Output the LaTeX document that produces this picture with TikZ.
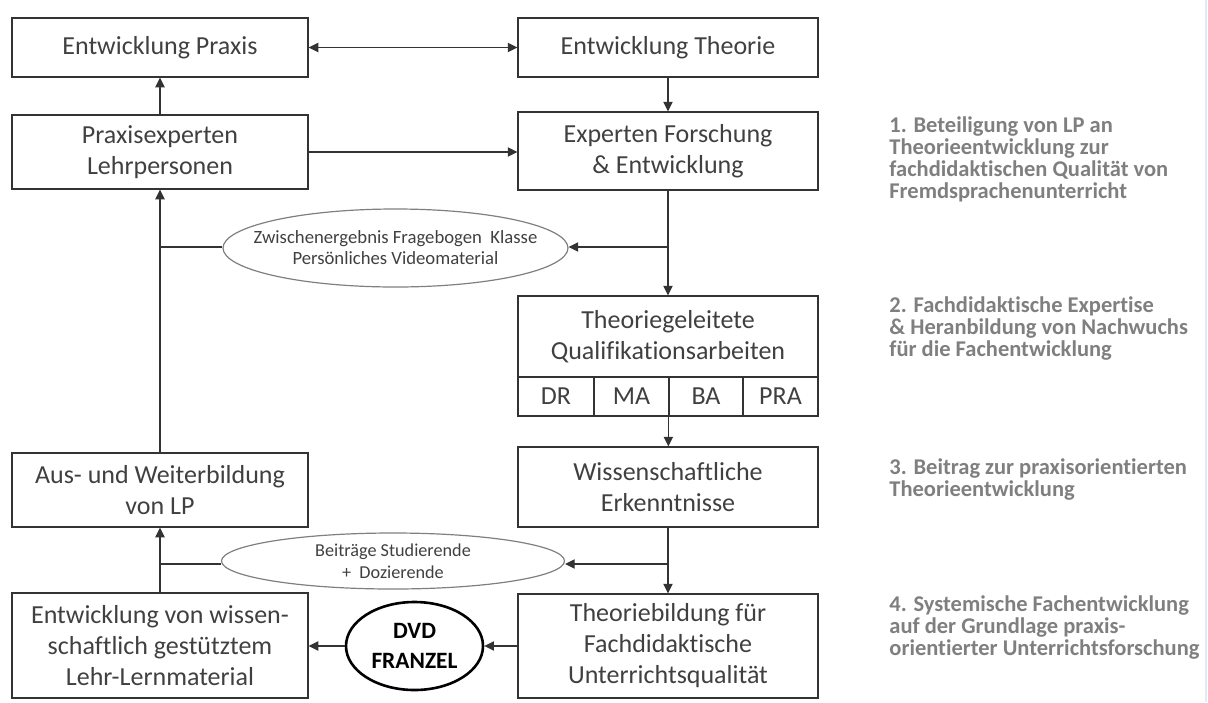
\documentclass[tikz,border=0pt]{standalone}
\usepackage{fontspec}
\setmainfont{Carlito}[Ligatures=NoCommon]
\usetikzlibrary{arrows.meta,shapes.geometric}
\definecolor{txt}{HTML}{404040}
\definecolor{lin}{HTML}{333333}
\definecolor{side}{HTML}{7F7F7F}
\definecolor{ellc}{HTML}{7F7F7F}
\definecolor{frame}{HTML}{E3EAF3}
\begin{document}
\begin{tikzpicture}[x=0.5pt,y=-0.5pt,
  box/.style={draw=lin, line width=0.65pt, inner sep=0pt, align=center, text=txt,
              font=\fontsize{13pt}{15.5pt}\selectfont},
  ell/.style={ellipse, draw=ellc, line width=0.6pt, inner sep=0pt},
  elltext/.style={inner sep=0pt, align=center, text=txt},
  dvd/.style={ellipse, draw=black, line width=1.3pt, inner sep=0pt, align=center, text=black,
              font=\fontsize{11.7pt}{15pt}\bfseries\selectfont},
  arr/.style={-{Triangle[length=4.8pt,width=4.6pt]}, draw=lin, line width=0.7pt},
  biarr/.style={{Triangle[length=4.8pt,width=4.6pt]}-{Triangle[length=4.8pt,width=4.6pt]}, draw=lin, line width=0.7pt},
  ln/.style={draw=lin, line width=0.7pt},
  sidetext/.style={anchor=north west, inner sep=0pt, align=left, text=side,
              font=\fontsize{11.25pt}{11pt}\bfseries\selectfont}
]
\useasboundingbox (0,0) rectangle (1208,702);
\draw[frame, line width=0.6pt] (1206,0) -- (1206,702);

% left column
\node[box, minimum width=148pt, minimum height=29.5pt] (EP) at (160,47.5) {Entwicklung Praxis};
\node[box, minimum width=148pt, minimum height=37pt] (PE) at (160,152) {Praxisexperten\\Lehrpersonen};
\node[box, minimum width=148pt, minimum height=37pt] (AW) at (160,490) {Aus- und Weiterbildung\\von LP};
\node[box, minimum width=148pt, minimum height=52.5pt] (EV) at (160,645.5) {Entwicklung von wissen-\\schaftlich gestütztem\\Lehr-Lernmaterial};

% right column
\node[box, minimum width=150pt, minimum height=29.5pt] (ET) at (668,47.5) {Entwicklung Theorie};
\node[box, minimum width=150pt, minimum height=39pt] (EF) at (668,151) {Experten Forschung\\\& Entwicklung};
\node[box, minimum width=150pt, minimum height=40.5pt] (QA) at (668,336.5) {Theoriegeleitete\\Qualifikationsarbeiten};
\node[box, minimum width=38pt, minimum height=19.5pt] (DR) at (556,396.5) {DR};
\node[box, minimum width=37.5pt, minimum height=19.5pt] (MA) at (631.5,396.5) {MA};
\node[box, minimum width=37pt, minimum height=19.5pt] (BA) at (706,396.5) {BA};
\node[box, minimum width=37.5pt, minimum height=19.5pt] (PRA) at (780.5,396.5) {PRA};
\node[box, minimum width=150pt, minimum height=40pt] (WE) at (668,487) {Wissenschaftliche\\Erkenntnisse};
\node[box, minimum width=150pt, minimum height=52pt] (TB) at (668,646) {Theoriebildung für\\Fachdidaktische\\Unterrichtsqualität};

% ellipses
\node[ell, minimum width=172.5pt, minimum height=39pt] (E1) at (395.5,248) {};
\node[elltext, font=\fontsize{9.35pt}{10.5pt}\selectfont] (E1t) at (E1.center) {Zwischenergebnis Fragebogen\ \ Klasse\\Persönliches Videomaterial};
\node[ell, minimum width=171.5pt, minimum height=28pt] (E2) at (393,561) {};
\node[elltext, font=\fontsize{9.1pt}{11pt}\selectfont] (E2t) at (E2.center) {Beiträge Studierende\\+\ \ Dozierende};
\node[dvd, minimum width=68.5pt, minimum height=44pt] (DVD) at (414.5,646) {DVD\\FRANZEL};

% branch points
\coordinate (b1) at (668,247);
\coordinate (b2) at (668,564);

% connectors
\draw[biarr] (EP) -- (ET);
\draw[arr] (ET) -- (EF);
\draw[arr] (PE) -- (EP);
\draw[arr] (PE.east) -- (PE.east -| EF.west);
\draw[arr] (AW) -- (PE);
\draw[arr] (EF) -- (QA);
\draw[arr] (b1) -- (b1 -| E1.east);
\draw[ln] (b1 -| E1.west) -- (b1 -| PE.south);
\draw[arr] (BA.south west) -- (BA.south west |- WE.north);
\draw[arr] (WE) -- (TB);
\draw[arr] (b2) -- (b2 -| E2.east);
\draw[ln] (b2 -| E2.west) -- (b2 -| AW.south);
\draw[arr] (EV) -- (AW);
\draw[arr] (TB.west) -- (TB.west -| DVD.east);
\draw[arr] (DVD.west) -- (DVD.west -| EV.east);

% side texts
\node[sidetext] (S1) at (889,116) {1. Beteiligung von LP an\\Theorieentwicklung zur\\fachdidaktischen Qualität von\\Fremdsprachenunterricht};
\node[sidetext] (S2) at (889,296) {2. Fachdidaktische Expertise\\\& Heranbildung von Nachwuchs\\für die Fachentwicklung};
\node[sidetext] (S3) at (889,458) {3. Beitrag zur praxisorientierten\\Theorieentwicklung};
\node[sidetext] (S4) at (889,595) {4. Systemische Fachentwicklung\\auf der Grundlage praxis-\\orientierter Unterrichtsforschung};
\end{tikzpicture}
\end{document}
